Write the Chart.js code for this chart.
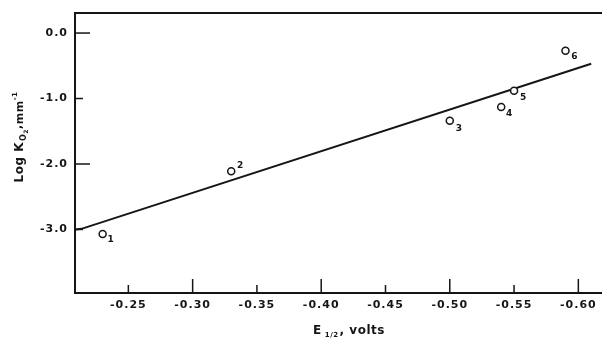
<!DOCTYPE html>
<html>
<head>
<meta charset="utf-8">
<script src="https://cdn.jsdelivr.net/npm/chart.js@4/dist/chart.umd.min.js"></script>
<style>
  html, body { margin: 0; padding: 0; background: #fff; }
  #wrap { width: 602px; height: 357px; }
</style>
</head>
<body>
<div id="wrap"><canvas id="c" width="602" height="357"></canvas></div>
<script>
// ---- data ----
const pointLabels = ['1', '2', '3', '4', '5', '6'];
const pointX = [-0.23, -0.33, -0.50, -0.54, -0.55, -0.59];
const pointY = [-3.07, -2.11, -1.34, -1.13, -0.88, -0.27];
const fitX = [-0.209, -0.2135, -0.610];
const fitY = [-3.00, -2.99, -0.47];
const xTicks = [-0.25, -0.30, -0.35, -0.40, -0.45, -0.50, -0.55, -0.60];
const xMajorTicks = [-0.30, -0.40, -0.50, -0.60];
const yTicks = [0, -1, -2, -3];
const xTitleParts = ['E', '1/2', ',', ' volts'];
const yTitleParts = ['Log K', 'O', '2', ',', 'mm', '-1'];

// ---- styling ----
const INK = '#151515';
const FAMILY = '"DejaVu Sans", sans-serif';
const labelOffsets = [[8, 6], [9, -6], [9, 8], [8, 7], [9, 7], [9, 6]];
const yTickLen = [15, 8, 15, 8];

function drawRich(ctx, segs, cx, cy, rot) {
  ctx.save();
  ctx.translate(cx, cy);
  ctx.rotate(rot);
  let total = 0;
  segs.forEach(s => { ctx.font = 'bold ' + s.size + 'px ' + FAMILY; s.w = ctx.measureText(s.text).width; total += s.w + (s.gap || 0); });
  let x = -total / 2;
  ctx.fillStyle = INK;
  ctx.textBaseline = 'alphabetic';
  ctx.textAlign = 'left';
  segs.forEach(s => {
    ctx.font = 'bold ' + s.size + 'px ' + FAMILY;
    x += (s.gap || 0);
    ctx.fillText(s.text, x, 4 + (s.dy || 0));
    x += s.w;
  });
  ctx.restore();
}

const decor = {
  id: 'decor',
  beforeDraw(chart) {
    chart.ctx.letterSpacing = '1px';
  },
  afterDraw(chart) {
    const ctx = chart.ctx;
    ctx.letterSpacing = '0px';
    const a = chart.chartArea;
    const xs = chart.scales.x, ys = chart.scales.y;
    ctx.save();
    ctx.strokeStyle = INK;
    // top frame line
    ctx.lineWidth = 2;
    ctx.beginPath();
    ctx.moveTo(a.left - 1, a.top);
    ctx.lineTo(a.right, a.top);
    ctx.stroke();
    // inward tick marks
    ctx.lineWidth = 1.5;
    yTicks.forEach((v, i) => {
      const py = ys.getPixelForValue(v);
      ctx.beginPath();
      ctx.moveTo(a.left, py);
      ctx.lineTo(a.left + yTickLen[i], py);
      ctx.stroke();
    });
    xTicks.forEach(v => {
      const px = xs.getPixelForValue(v);
      const len = xMajorTicks.includes(v) ? 14 : 8;
      ctx.beginPath();
      ctx.moveTo(px, a.bottom);
      ctx.lineTo(px, a.bottom - len);
      ctx.stroke();
    });
    // point numbers
    const meta = chart.getDatasetMeta(0);
    ctx.fillStyle = INK;
    ctx.font = 'bold 9px ' + FAMILY;
    ctx.textAlign = 'center';
    ctx.textBaseline = 'middle';
    meta.data.forEach((el, i) => {
      ctx.fillText(pointLabels[i], el.x + labelOffsets[i][0], el.y + labelOffsets[i][1]);
    });
    ctx.restore();
    // axis titles
    ctx.letterSpacing = '0.5px';
    drawRich(ctx, [
      { text: xTitleParts[0], size: 12 },
      { text: xTitleParts[1], size: 7, dy: 3, gap: 3 },
      { text: xTitleParts[2], size: 12, gap: 1 },
      { text: xTitleParts[3], size: 12 }
    ], 349, 330, 0);
    drawRich(ctx, [
      { text: yTitleParts[0], size: 12 },
      { text: yTitleParts[1], size: 8, dy: 3, gap: 1 },
      { text: yTitleParts[2], size: 6, dy: 5 },
      { text: yTitleParts[3], size: 11, dy: -2 },
      { text: yTitleParts[4], size: 11 },
      { text: yTitleParts[5], size: 7, dy: -6 }
    ], 19, 137, -Math.PI / 2);
    ctx.letterSpacing = '0px';
  }
};

const tickFont = { family: FAMILY, size: 11, weight: 'bold' };

new Chart(document.getElementById('c'), {
  type: 'scatter',
  data: {
    datasets: [
      {
        label: 'points',
        data: pointX.map((x, i) => ({ x, y: pointY[i] })),
        pointRadius: 3.5,
        pointBorderWidth: 1.5,
        borderColor: INK,
        backgroundColor: '#ffffff',
        showLine: false
      },
      {
        label: 'fit',
        data: fitX.map((x, i) => ({ x, y: fitY[i] })),
        showLine: true,
        pointRadius: 0,
        borderWidth: 2,
        borderColor: INK,
        tension: 0
      }
    ]
  },
  options: {
    responsive: false,
    animation: false,
    layout: { autoPadding: false, padding: { top: 13, left: 0, right: 0, bottom: 0 } },
    plugins: { legend: { display: false }, tooltip: { enabled: false } },
    scales: {
      x: {
        type: 'linear',
        reverse: true,
        min: -0.6184,
        max: -0.2085,
        afterBuildTicks: s => { s.ticks = xTicks.map(v => ({ value: v })); },
        afterFit: s => { s.height = 64; s.paddingLeft = 0; s.paddingRight = 0; },
        ticks: { callback: v => Number(v).toFixed(2), font: tickFont, color: INK, padding: 6, maxRotation: 0, autoSkip: false },
        grid: { display: false, drawTicks: false },
        border: { display: true, color: INK, width: 2 }
      },
      y: {
        type: 'linear',
        min: -3.97,
        max: 0.306,
        afterBuildTicks: s => { s.ticks = yTicks.map(v => ({ value: v })); },
        afterFit: s => { s.width = 75; s.paddingTop = 0; s.paddingBottom = 0; },
        ticks: { callback: v => Number(v).toFixed(1), font: tickFont, color: INK, padding: 7, autoSkip: false },
        grid: { display: false, drawTicks: false },
        border: { display: true, color: INK, width: 2 }
      }
    }
  },
  plugins: [decor]
});
</script>
</body>
</html>
